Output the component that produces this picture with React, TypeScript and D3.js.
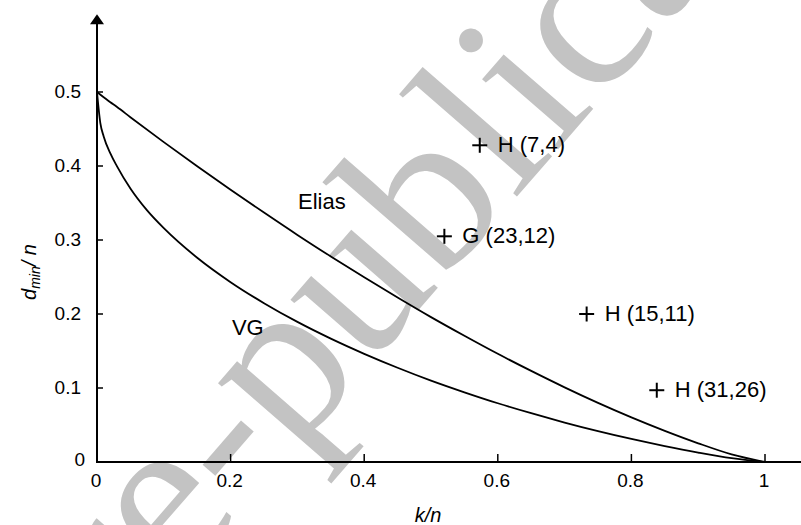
import React from "react";
import * as d3 from "d3";

// ---- data ----
const xTicks = [0, 0.2, 0.4, 0.6, 0.8, 1];
const xTickLabels = ["0", "0.2", "0.4", "0.6", "0.8", "1"];
const yTicks = [0, 0.1, 0.2, 0.3, 0.4, 0.5];
const yTickLabels = ["0", "0.1", "0.2", "0.3", "0.4", "0.5"];

const vgX = [0, 0.005, 0.01, 0.02, 0.03, 0.05, 0.075, 0.1, 0.15, 0.2, 0.25, 0.3, 0.35, 0.4, 0.45, 0.5, 0.55, 0.6, 0.65, 0.7, 0.75, 0.8, 0.85, 0.9, 0.95, 1];
const vgY = [0.5, 0.458, 0.44, 0.417, 0.3995, 0.3696, 0.34, 0.316, 0.276, 0.243, 0.2146, 0.1893, 0.1667, 0.1462, 0.1274, 0.11, 0.0942, 0.0794, 0.0659, 0.0533, 0.0417, 0.0311, 0.0215, 0.0128, 0.0052, 0];

const eliasX = [0, 0.01, 0.02, 0.03, 0.05, 0.1, 0.15, 0.2, 0.25, 0.3, 0.35, 0.4, 0.45, 0.5, 0.55, 0.6, 0.65, 0.7, 0.75, 0.8, 0.85, 0.9, 0.95, 1];
const eliasY = [0.5, 0.4928, 0.4862, 0.4797, 0.466, 0.4323, 0.3996, 0.3679, 0.3371, 0.3069, 0.2778, 0.2496, 0.2223, 0.1958, 0.1706, 0.1462, 0.1231, 0.1009, 0.0799, 0.0603, 0.0421, 0.0253, 0.0103, 0];

const codeNames = ["H (7,4)", "G (23,12)", "H (15,11)", "H (31,26)"];
const codeRate = [0.573, 0.52, 0.733, 0.838];
const codeDist = [0.428, 0.305, 0.2, 0.097];

const curveLabels = ["Elias", "VG"];
const curveLabelX = [0.301, 0.202];
const curveLabelY = [0.342, 0.172];

const xAxisMax = 1.06;
const yAxisMax = 0.605;

const W = 801;
const H = 525;

export default function App() {
  const x = d3.scaleLinear().domain([0, 1]).range([97, 765]);
  const y = d3.scaleLinear().domain([0, 0.5]).range([462, 92]);

  const line = d3
    .line<[number, number]>()
    .x((d) => x(d[0]))
    .y((d) => y(d[1]))
    .curve(d3.curveMonotoneX);

  const vgPath = line(vgX.map((v, i) => [v, vgY[i]]) as [number, number][]) || "";
  const eliasPath = line(eliasX.map((v, i) => [v, eliasY[i]]) as [number, number][]) || "";

  const font = "'Liberation Sans', Arial, Helvetica, sans-serif";
  const tipY = y(yAxisMax);

  return (
    <svg
      width={W}
      height={H}
      viewBox={`0 0 ${W} ${H}`}
      style={{ position: "absolute", left: 0, top: 0, background: "#fff" }}
    >
      <rect x={0} y={0} width={W} height={H} fill="#fff" />
      {/* watermark */}
      <text
        transform="translate(55,728) rotate(-49)"
        fontFamily="'Liberation Serif', 'Times New Roman', serif"
        fontSize={225}
        fill="#c3c3c3"
      >
        pre-publication
      </text>

      {/* axes */}
      <line x1={x(0)} y1={y(0)} x2={x(xAxisMax)} y2={y(0)} stroke="#000" strokeWidth={2} />
      <line x1={x(0)} y1={y(0) + 1} x2={x(0)} y2={tipY + 8} stroke="#000" strokeWidth={2} />
      <path d={`M${x(0)},${tipY} L${x(0) - 7},${tipY + 10} L${x(0) + 7},${tipY + 10} Z`} fill="#000" />

      {xTicks.map((t, i) => (
        <g key={"xt" + i}>
          {i > 0 && <line x1={x(t)} x2={x(t)} y1={y(0)} y2={y(0) - 8} stroke="#000" strokeWidth={1.5} />}
          <text x={x(t) - 1} y={y(0) + 25} textAnchor="middle" fontFamily={font} fontSize={19} fill="#000">
            {xTickLabels[i]}
          </text>
        </g>
      ))}
      {yTicks.map((t, i) => (
        <g key={"yt" + i}>
          {i > 0 && <line x1={x(0)} x2={x(0) + 6} y1={y(t)} y2={y(t)} stroke="#000" strokeWidth={1.5} />}
          <text
            x={i === 0 ? x(0) - 12 : x(0) - 16}
            y={i === 0 ? y(t) + 4 : y(t) + 6}
            textAnchor="end"
            fontFamily={font}
            fontSize={19}
            fill="#000"
          >
            {yTickLabels[i]}
          </text>
        </g>
      ))}

      {/* axis titles */}
      <text x={428} y={522} textAnchor="middle" fontFamily={font} fontSize={20} fontStyle="italic" fill="#000">
        k/n
      </text>
      <text
        transform="translate(36,272) rotate(-90)"
        textAnchor="middle"
        fontFamily={font}
        fontSize={20}
        fontStyle="italic"
        fill="#000"
      >
        d<tspan fontSize={14} dy={4}>min</tspan>
        <tspan dy={-4}>/ n</tspan>
      </text>

      {/* curves */}
      <path d={eliasPath} fill="none" stroke="#000" strokeWidth={1.8} />
      <path d={vgPath} fill="none" stroke="#000" strokeWidth={1.8} />

      {curveLabels.map((l, i) => (
        <text key={l} x={x(curveLabelX[i])} y={y(curveLabelY[i])} fontFamily={font} fontSize={22} fill="#000">
          {l}
        </text>
      ))}

      {/* codes */}
      {codeNames.map((n, i) => {
        const cx = x(codeRate[i]);
        const cy = y(codeDist[i]);
        return (
          <g key={n}>
            <line x1={cx - 7.5} x2={cx + 7.5} y1={cy} y2={cy} stroke="#000" strokeWidth={2} />
            <line x1={cx} x2={cx} y1={cy - 7.5} y2={cy + 7.5} stroke="#000" strokeWidth={2} />
            <text x={cx + 18} y={cy + 7} fontFamily={font} fontSize={22} fill="#000">
              {n}
            </text>
          </g>
        );
      })}
    </svg>
  );
}
